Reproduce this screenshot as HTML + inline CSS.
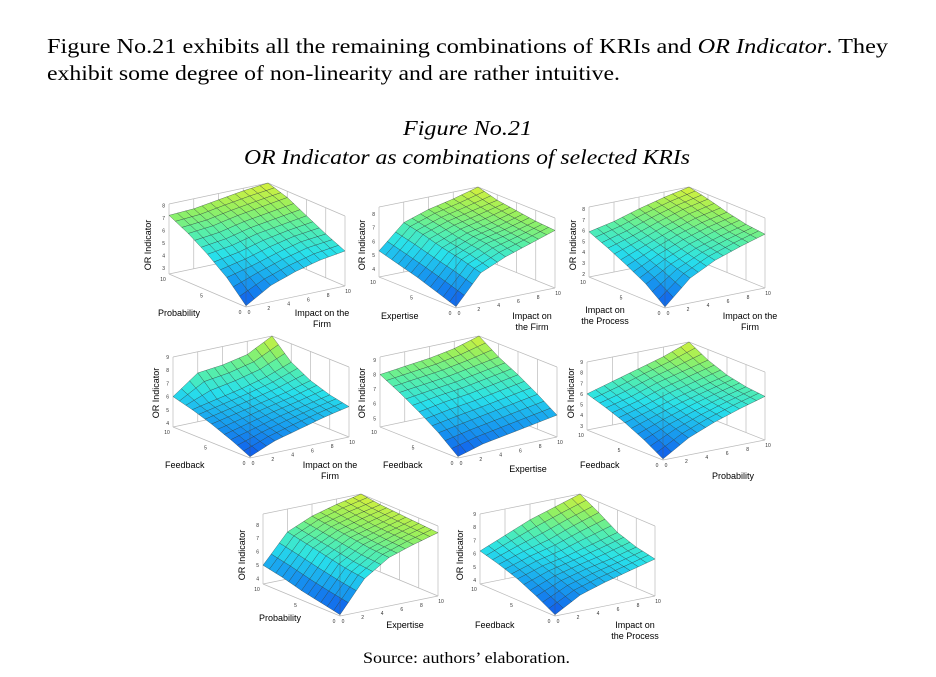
<!DOCTYPE html>
<html><head><meta charset="utf-8"><style>
html,body{margin:0;padding:0;background:#fff;}
svg{display:block;}
</style></head><body>
<svg id="root" width="936" height="677" viewBox="0 0 936 677" xmlns="http://www.w3.org/2000/svg">
<g font-family="'Liberation Serif', serif" fill="#000">
<text x="47" y="53" font-size="21" textLength="841" lengthAdjust="spacingAndGlyphs">Figure No.21 exhibits all the remaining combinations of KRIs and <tspan font-style="italic">OR Indicator</tspan>. They</text>
<text x="47" y="80" font-size="21" textLength="573" lengthAdjust="spacingAndGlyphs">exhibit some degree of non-linearity and are rather intuitive.</text>
<text x="403" y="135" font-size="21" font-style="italic" textLength="129" lengthAdjust="spacingAndGlyphs">Figure No.21</text>
<text x="244" y="164" font-size="21" font-style="italic" textLength="446" lengthAdjust="spacingAndGlyphs">OR Indicator as combinations of selected KRIs</text>
<text x="363" y="663" font-size="16" textLength="207" lengthAdjust="spacingAndGlyphs">Source: authors’ elaboration.</text>
</g>
<g id="plots"></g>
</svg>
<script>
// ---- data: 5x5 z grids, rows = left axis (0..10), cols = right axis (0..10)
const ticks = [0, 2.5, 5, 7.5, 10];
const z1 = [[2.6,3.8,4.5,5.0,5.3],[4.2,4.7,5.3,5.8,6.0],[5.4,5.7,6.2,6.5,6.8],[6.4,6.6,7.0,7.3,7.6],[7.2,7.3,7.6,7.9,8.1]];
const z2 = [[3.5,5.6,6.4,7.0,7.6],[4.0,6.0,6.8,7.2,7.7],[4.5,6.3,7.0,7.4,7.9],[4.9,6.7,7.3,7.7,8.1],[5.3,7.0,7.6,8.0,8.5]];
const z3 = [[1.8,4.0,5.2,6.0,6.7],[3.2,4.6,5.6,6.3,6.9],[4.2,5.2,6.1,6.8,7.3],[5.1,5.8,6.6,7.3,7.8],[5.9,6.4,7.1,7.7,8.2]];
const z4 = [[3.8,4.6,5.1,5.6,6.0],[4.5,5.0,5.5,5.9,6.3],[5.1,5.5,5.9,6.3,6.8],[5.6,6.0,6.4,6.9,7.6],[6.0,7.4,7.6,8.0,9.0]];
const z5 = [[4.5,5.0,5.3,5.6,5.9],[5.6,5.9,6.2,6.5,6.8],[6.5,6.8,7.0,7.3,7.6],[7.3,7.5,7.7,8.0,8.3],[8.0,8.2,8.4,8.7,9.2]];
const z6 = [[2.7,4.2,5.2,6.0,6.7],[3.8,4.8,5.6,6.3,6.9],[4.7,5.4,6.1,6.7,7.3],[5.4,6.0,6.8,7.4,8.0],[6.0,6.7,7.4,8.1,9.0]];
const z7 = [[3.7,6.0,7.2,7.8,8.3],[4.0,6.2,7.3,7.9,8.4],[4.3,6.5,7.5,8.0,8.5],[4.7,6.8,7.7,8.2,8.6],[5.0,7.1,7.9,8.4,8.8]];
const z8 = [[3.8,4.9,5.5,6.0,6.5],[4.6,5.4,5.9,6.3,6.8],[5.3,5.9,6.3,6.8,7.3],[5.8,6.4,6.9,7.6,8.2],[6.2,7.0,7.8,8.4,9.0]];
const leftLabels = ["Probability","Expertise","Impact on|the Process","Feedback","Feedback","Feedback","Probability","Feedback"];
const rightLabels = ["Impact on the|Firm","Impact on|the Firm","Impact on the|Firm","Impact on the|Firm","Expertise","Probability","Expertise","Impact on|the Process"];
const zTicks = [[3,4,5,6,7,8],[4,5,6,7,8],[2,3,4,5,6,7,8],[4,5,6,7,8,9],[5,6,7,8,9],[3,4,5,6,7,8,9],[4,5,6,7,8],[4,5,6,7,8,9]];

// ---- layout (pixel geometry, not data)
const panels = [
 {z:z1,F:[246,307],L:[169,274],R:[345,286],H:70,zmin:2.5,zmax:8.1,oy:[148,245],lp:[158,316],rp:[322,316]},
 {z:z2,F:[456,308],L:[379,277],R:[555,288],H:70,zmin:3.4,zmax:8.5,oy:[362,245],lp:[381,319],rp:[532,319]},
 {z:z3,F:[665,308],L:[589,277],R:[765,288],H:70,zmin:1.7,zmax:8.2,oy:[573,245],lp:[605,313],rp:[750,319]},
 {z:z4,F:[250,458],L:[173,427],R:[349,437],H:70,zmin:3.7,zmax:9.0,oy:[156,393],lp:[165,468],rp:[330,468]},
 {z:z5,F:[458,458],L:[380,427],R:[557,437],H:70,zmin:4.4,zmax:9.2,oy:[362,393],lp:[383,468],rp:[528,472]},
 {z:z6,F:[663,460],L:[587,430],R:[765,440],H:68,zmin:2.6,zmax:9.0,oy:[571,393],lp:[580,468],rp:[733,479]},
 {z:z7,F:[340,616],L:[263,584],R:[438,596],H:70,zmin:3.6,zmax:8.8,oy:[242,555],lp:[259,621],rp:[405,628]},
 {z:z8,F:[555,616],L:[480,584],R:[655,596],H:70,zmin:3.7,zmax:9.0,oy:[460,555],lp:[475,628],rp:[635,628]}
];
const NS="http://www.w3.org/2000/svg";
const root=document.getElementById('plots');
function mk(tag,attrs,parent){const e=document.createElementNS(NS,tag);for(const k in attrs)e.setAttribute(k,attrs[k]);parent.appendChild(e);return e;}
const stops=[[0,[15,80,235]],[0.3,[25,165,240]],[0.5,[40,225,235]],[0.7,[90,240,165]],[0.85,[150,240,95]],[1,[215,240,60]]];
function cmap(t){t=Math.max(0,Math.min(1,t));for(let i=1;i<stops.length;i++){if(t<=stops[i][0]){const a=stops[i-1],b=stops[i];const f=(t-a[0])/(b[0]-a[0]);const c=a[1].map((v,k)=>Math.round(v+(b[1][k]-v)*f));return `rgb(${c[0]},${c[1]},${c[2]})`;}}return 'rgb(215,240,60)';}
function bil(z,u,v){
 const i=Math.min(3,Math.floor(v)),j=Math.min(3,Math.floor(u));const fv=v-i,fu=u-j;
 return z[i][j]*(1-fu)*(1-fv)+z[i][j+1]*fu*(1-fv)+z[i+1][j]*(1-fu)*fv+z[i+1][j+1]*fu*fv;}
panels.forEach((p,pi)=>{
 const g=mk('g',{},root);
 
 
 const dx=[p.R[0]-p.F[0],p.R[1]-p.F[1]], dy=[p.L[0]-p.F[0],p.L[1]-p.F[1]];
 const zs=p.H/(p.zmax-p.zmin);
 const P=(a,b,zv)=>[p.F[0]+a*dx[0]+b*dy[0], p.F[1]+a*dx[1]+b*dy[1]-(zv-p.zmin)*zs];
 const top=p.zmax;
 const xa=(ticks[ticks.length-1]);
 const box=mk('g',{stroke:'#bbb','stroke-width':'0.7',fill:'none'},g);
 
 
 const l=(a,b)=>mk('line',{x1:a[0],y1:a[1],x2:b[0],y2:b[1]},box);
 l(P(0,1,p.zmin),P(1,1,p.zmin));l(P(1,1,p.zmin),P(1,0,p.zmin));l(P(1,1,p.zmin),P(1,1,top));
 l(P(0,1,top),P(1,1,top));l(P(1,1,top),P(1,0,top));
 l(P(0,1,p.zmin),P(0,1,top));l(P(1,0,p.zmin),P(1,0,top));
 l(P(0,0,p.zmin),P(0,1,p.zmin));l(P(0,0,p.zmin),P(1,0,p.zmin));
 p.z.forEach((_,k)=>{ if(k>0&&k<4){l(P(k/4,1,p.zmin),P(k/4,1,top));l(P(1,k/4,p.zmin),P(1,k/4,top));}});
 const S=3, N=4*S;
 const quads=[];
 for(let i=0;i<N;i++)for(let j=0;j<N;j++)quads.push([i,j]);
 quads.sort((a,b)=>(b[0]+b[1])-(a[0]+a[1]));
 const surf=mk('g',{stroke:'#2a3a3a','stroke-width':'0.45','stroke-opacity':'0.75'},g);
 
 
 quads.forEach(([i,j])=>{
  const c=[[j,i],[j+1,i],[j+1,i+1],[j,i+1]].map(([a,b])=>{const zv=bil(p.z,a/S,b/S);return [P(a/N,b/N,zv),zv];});
  const avg=(c[0][1]+c[1][1]+c[2][1]+c[3][1])/4;
  const poly=mk('polygon',{points:c.map(q=>q[0][0].toFixed(1)+','+q[0][1].toFixed(1)).join(' '),fill:cmap((avg-p.zmin)/(p.zmax-p.zmin))},surf);
  
  
 });
 const fe=mk('line',{x1:P(0,0,p.zmin)[0],y1:P(0,0,p.zmin)[1],x2:P(0,0,top)[0],y2:P(0,0,top)[1],stroke:'#555','stroke-width':'0.6','stroke-opacity':'0.6'},g);
 
 
 const tg=mk('g',{'font-family':"'Liberation Sans',sans-serif",'font-size':'5',fill:'#333'},g);
 
 
 zTicks[pi].forEach(t=>{if(t<p.zmin||t>p.zmax)return;const q=P(0,1,t);const e=mk('text',{x:q[0]-4,y:q[1]+2,'text-anchor':'end'},tg);e.textContent=t;});
 [0,5,10].forEach(t=>{const q=P(0,t/xa,p.zmin);const e=mk('text',{x:q[0]-6,y:q[1]+7,'text-anchor':'middle'},tg);e.textContent=t;});
 [0,2,4,6,8,10].forEach(t=>{const q=P(t/xa,0,p.zmin);const e=mk('text',{x:q[0]+3,y:q[1]+7,'text-anchor':'middle'},tg);e.textContent=t;});
 const lg=mk('g',{'font-family':"'Liberation Sans',sans-serif",'font-size':'9',fill:'#000'},g);
 
 
 const oy=mk('text',{x:p.oy[0],y:p.oy[1],transform:`rotate(-90 ${p.oy[0]} ${p.oy[1]})`,'text-anchor':'middle','dominant-baseline':'central'},lg);
 oy.textContent='OR Indicator';
 
 
 const ll=leftLabels[pi].split('|');
 ll.forEach((s,k)=>{const e=mk('text',{x:p.lp[0],y:p.lp[1]+k*11,'text-anchor':ll.length>1?'middle':'start'},lg);e.textContent=s;
  
  });
 rightLabels[pi].split('|').forEach((s,k)=>{const e=mk('text',{x:p.rp[0],y:p.rp[1]+k*11,'text-anchor':'middle'},lg);e.textContent=s;
  
  });
});
</script>
</body></html>
